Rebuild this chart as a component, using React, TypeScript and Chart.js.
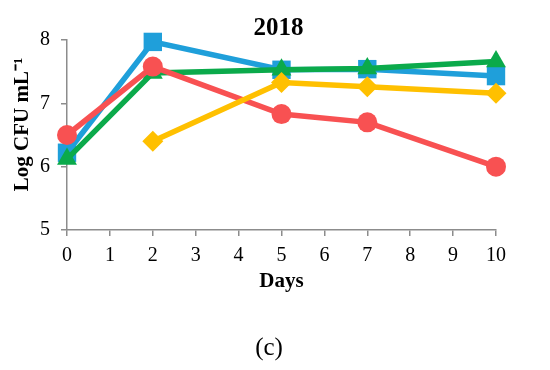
import { useEffect, useRef } from "react";
import { Chart, registerables } from "chart.js";

Chart.register(...registerables);

const days = [0, 2, 5, 7, 10];
const blueSeries = [6.22, 7.97, 7.53, 7.54, 7.43];
const greenSeries = [6.12, 7.48, 7.53, 7.55, 7.66];
const redSeries = [6.5, 7.58, 6.83, 6.7, 6.0];
const yellowSeries = [null, 6.4, 7.33, 7.26, 7.16];
const chartTitle = "2018";
const xTitle = "Days";
const yTitle = "Log CFU mL⁻¹";
const caption = "(c)";

const FONT = "'Liberation Serif', 'Times New Roman', serif";
const AXIS_GRAY = "#8c8c8c";

function pts(values: (number | null)[]) {
  return days.map((d, i) => ({ x: d, y: values[i] }));
}

const areaTitle = {
  id: "areaTitle",
  afterDraw(chart: any) {
    const { ctx, chartArea } = chart;
    ctx.save();
    ctx.font = `bold 25px ${FONT}`;
    ctx.fillStyle = "#000";
    ctx.textAlign = "center";
    ctx.textBaseline = "middle";
    ctx.fillText(chartTitle, (chartArea.left + chartArea.right) / 2 - 3, 29);
    ctx.restore();
  },
};

export default function App() {
  const ref = useRef<HTMLCanvasElement | null>(null);

  useEffect(() => {
    if (!ref.current) return;
    const mk = (label: string, values: (number | null)[], color: string, style: string, radius: number) => ({
      label,
      data: pts(values),
      borderColor: color,
      backgroundColor: color,
      borderWidth: 5.5,
      pointStyle: style,
      pointRadius: radius,
      pointHoverRadius: radius,
      pointBorderWidth: 0,
      pointBackgroundColor: color,
      tension: 0,
      spanGaps: false,
      clip: false as any,
    });
    const chart = new Chart(ref.current, {
      type: "line",
      data: {
        datasets: [
          mk("yellow", yellowSeries, "#FFC000", "rectRot", 10.5),
          mk("red", redSeries, "#F85152", "circle", 10),
          mk("green", greenSeries, "#0BAA4B", "triangle", 11.5),
          mk("blue", blueSeries, "#1F9FDA", "rect", 13),
        ] as any,
      },
      plugins: [areaTitle],
      options: {
        responsive: false,
        animation: false,
        layout: { padding: { left: 0, right: 54, top: 40, bottom: 0 } },
        plugins: {
          legend: { display: false },
          tooltip: { enabled: false },
          title: { display: false },
        },
        scales: {
          x: {
            type: "linear",
            min: 0,
            max: 10,
            ticks: {
              stepSize: 1,
              color: "#000",
              padding: 8,
              font: { family: FONT, size: 20 },
              maxRotation: 0,
            },
            grid: {
              display: true,
              drawOnChartArea: false,
              drawTicks: true,
              tickLength: 6,
              color: AXIS_GRAY,
              lineWidth: 1.5,
            },
            border: { display: true, color: AXIS_GRAY, width: 1.5 },
            title: {
              display: true,
              text: xTitle,
              color: "#000",
              font: { family: FONT, size: 21, weight: "bold" },
              padding: { top: 0, bottom: 76 },
            },
            afterFit: (s: any) => {
              s.height = 140;
            },
          },
          y: {
            min: 5,
            max: 8,
            ticks: {
              stepSize: 1,
              color: "#000",
              padding: 11,
              font: { family: FONT, size: 20 },
            },
            grid: {
              display: true,
              drawOnChartArea: false,
              drawTicks: true,
              tickLength: 6,
              color: AXIS_GRAY,
              lineWidth: 1.5,
            },
            border: { display: true, color: AXIS_GRAY, width: 1.5 },
            title: {
              display: true,
              text: "    " + yTitle,
              color: "#000",
              font: { family: FONT, size: 21, weight: "bold" },
              padding: { top: 10, bottom: 0 },
            },
            afterFit: (s: any) => {
              s.width = 67;
            },
          },
        },
      } as any,
    });
    return () => chart.destroy();
  }, []);

  return (
    <div style={{ position: "fixed", left: 0, top: 0, width: 550, height: 370, background: "#fff" }}>
      <canvas ref={ref} width={550} height={370} style={{ display: "block" }} />
      <div
        style={{
          position: "absolute",
          left: 0,
          width: 538,
          top: 333,
          textAlign: "center",
          fontFamily: FONT,
          fontSize: 25,
          lineHeight: "28px",
          color: "#000",
        }}
      >
        {caption}
      </div>
    </div>
  );
}
